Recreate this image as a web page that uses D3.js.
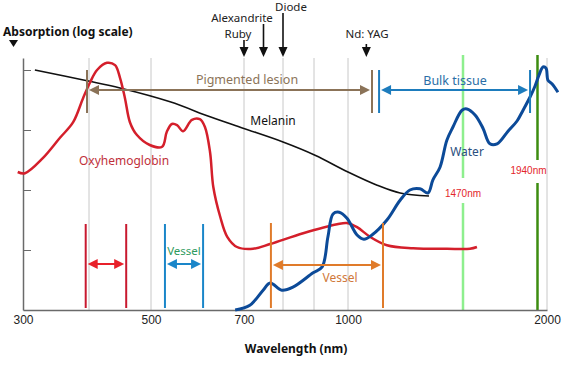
<!DOCTYPE html>
<html>
<head>
<meta charset="utf-8">
<script src="https://cdn.jsdelivr.net/npm/d3@7"></script>
<style>
  body { margin: 0; background: #fff; }
  svg { display: block; font-family: "Noto Sans", sans-serif; }
</style>
</head>
<body>
<div class="chart"></div>
<script>
// wavelength (nm) vs relative absorption (log10 units, arbitrary)
var melanin = [[318,4.0],[397,3.82],[450,3.70],[541,3.47],[627,3.22],[698,3.03],[800,2.80],
  [903,2.58],[1000,2.30],[1119,2.08],[1213,1.95],[1331,1.90]];

var oxyHb = [[292,2.30],[303,2.28],[330,2.53],[356,2.87],[376,3.13],[391,3.53],[402,3.80],
  [413,4.00],[429,4.12],[442,4.08],[450,3.87],[458,3.53],[466,3.13],[477,2.92],[498,2.75],
  [524,2.72],[534,2.97],[545,3.10],[556,3.08],[569,2.98],[588,3.17],[605,3.18],[616,3.05],
  [627,2.63],[634,2.05],[649,1.55],[664,1.22],[685,1.05],[723,1.02],[767,1.10],[865,1.28],
  [968,1.43],[997,1.45],[1037,1.38],[1090,1.22],[1159,1.08],[1266,1.03],[1405,1.02],
  [1514,1.02],[1558,1.05]];

var water = [[681,0.0],[715,0.08],[749,0.33],[767,0.45],[797,0.33],[832,0.38],[897,0.62],
  [924,0.72],[941,1.22],[956,1.60],[974,1.63],[997,1.53],[1037,1.25],[1065,1.18],[1098,1.25],
  [1159,1.50],[1213,1.83],[1253,2.00],[1294,2.02],[1327,1.95],[1347,2.17],[1376,2.38],
  [1404,2.83],[1429,3.05],[1466,3.33],[1495,3.35],[1546,3.25],[1596,3.03],[1640,2.77],
  [1685,2.77],[1754,2.98],[1811,3.15],[1849,3.33],[1893,3.55],[1924,3.73],[1950,3.92],
  [1975,4.05],[1994,4.03],[2006,3.83],[2031,3.77],[2069,3.63]];

var xTicks = [300, 500, 700, 1000, 2000];
var gridNm = [400, 500, 700, 800, 900, 1000, 2000];
var yTicks = [1, 2, 3, 4];

var lasers = [
  {name: "Ruby", nm: 700, top: 40},
  {name: "Alexandrite", nm: 750, top: 24},
  {name: "Diode", nm: 800, top: 13},
  {name: "Nd: YAG", nm: 1075, top: 44}
];

var waterPeaks = [1470, 1940];

// treatment windows (nm)
var pigmented = [397, 1098];
var bulkTissue = [1127, 1893];
var vesselRed = [395, 460];
var vesselBlue = [530, 612];
var vesselOrange = [769, 1143];

var svgWidth = 585, svgHeight = 371;

var svg = d3.select(".chart").append("svg")
  .attr("width", svgWidth)
  .attr("height", svgHeight);

// the wavelength axis of the original is a hand-spaced schematic, so piecewise
var x = d3.scaleLinear()
  .domain([300, 400, 500, 700, 800, 900, 1000, 1470, 2000])
  .range([23, 89, 151, 244, 283, 314, 348, 463, 547]);

var y = d3.scaleLinear()
  .domain([0, 4.2])
  .range([310, 58]);

// grid lines
svg.append("g").selectAll("line")
  .data(gridNm)
  .enter().append("line")
  .attr("x1", d => x(d)).attr("x2", d => x(d))
  .attr("y1", y(4.2)).attr("y2", y(0))
  .attr("stroke", "#c8c8c8").attr("stroke-width", 1);

// water peak lines (with a gap for their labels)
var peakColor = ["#8eef8e", "#3c8c10"];
var peakGap = [[178, 203], [160, 183]];
var peakLabelY = [197, 174];
var peakLabelDx = [0, -9];
waterPeaks.forEach(function(p, i) {
  svg.append("line")
    .attr("x1", x(p)).attr("x2", x(p))
    .attr("y1", 55).attr("y2", peakGap[i][0])
    .attr("stroke", peakColor[i]).attr("stroke-width", 2.5);
  svg.append("line")
    .attr("x1", x(p)).attr("x2", x(p))
    .attr("y1", peakGap[i][1]).attr("y2", y(0))
    .attr("stroke", peakColor[i]).attr("stroke-width", 2.5);
  svg.append("text")
    .attr("x", x(p) + peakLabelDx[i]).attr("y", peakLabelY[i])
    .attr("text-anchor", "middle")
    .style("font-family", "'Liberation Sans', Arial, sans-serif")
    .style("font-size", "10px")
    .attr("fill", "#e3262b")
    .text(p + "nm");
});

// axes
var xAxis = svg.append("g")
  .attr("transform", `translate(0, ${y(0)})`)
  .call(d3.axisBottom(x).tickValues(xTicks).tickFormat(d3.format("d"))
    .tickSize(0).tickSizeOuter(0).tickPadding(5));
xAxis.selectAll("text").style("font-size", "12px").attr("fill", "#222");

var yAxis = svg.append("g")
  .attr("transform", `translate(${x(300)}, 0)`)
  .call(d3.axisRight(y).tickValues(yTicks).tickSize(8).tickSizeOuter(0).tickFormat(""));

svg.selectAll(".domain").attr("stroke", "#6a6a6a").attr("stroke-width", 1.5);
yAxis.selectAll(".tick line").attr("stroke", "#6a6a6a").attr("stroke-width", 1);

svg.append("text")
  .attr("x", 3).attr("y", 36)
  .style("font-size", "12px").style("font-weight", "bold")
  .attr("fill", "#111")
  .text("Absorption (log scale)");
svg.append("path")
  .attr("d", "M9,40 L18,40 L13.5,47 Z")
  .attr("fill", "#111");

svg.append("text")
  .attr("x", 296).attr("y", 353)
  .attr("text-anchor", "middle")
  .style("font-size", "12px").style("font-weight", "bold")
  .attr("fill", "#111")
  .text("Wavelength (nm)");

// curves
var line = d3.line()
  .x(d => x(d[0]))
  .y(d => y(d[1]))
  .curve(d3.curveCatmullRom.alpha(0.5));

svg.append("path").datum(melanin)
  .attr("d", line).attr("fill", "none")
  .attr("stroke", "#111").attr("stroke-width", 1.6);

svg.append("path").datum(oxyHb)
  .attr("d", line).attr("fill", "none")
  .attr("stroke", "#d41f2b").attr("stroke-width", 2.5);

svg.append("path").datum(water)
  .attr("d", line).attr("fill", "none")
  .attr("stroke", "#0c4a98").attr("stroke-width", 3);

// arrow helpers
function head(g, tipX, tipY, dir, color, len, half) {
  var p;
  if (dir === "left") p = [[tipX, tipY], [tipX + len, tipY - half], [tipX + len, tipY + half]];
  else if (dir === "right") p = [[tipX, tipY], [tipX - len, tipY - half], [tipX - len, tipY + half]];
  else p = [[tipX, tipY], [tipX - half, tipY - len], [tipX + half, tipY - len]];
  g.append("path").attr("d", "M" + p.join("L") + "Z").attr("fill", color);
}

function span(range, barTop, barBottom, arrowY, barColor, arrowColor, width) {
  var g = svg.append("g");
  var x0 = x(range[0]), x1 = x(range[1]);
  [x0, x1].forEach(function(px) {
    g.append("line")
      .attr("x1", px).attr("x2", px)
      .attr("y1", barTop).attr("y2", barBottom)
      .attr("stroke", barColor).attr("stroke-width", width);
  });
  g.append("line")
    .attr("x1", x0 + 6).attr("x2", x1 - 6)
    .attr("y1", arrowY).attr("y2", arrowY)
    .attr("stroke", arrowColor).attr("stroke-width", 2);
  head(g, x0 + 2, arrowY, "left", arrowColor, 10, 5);
  head(g, x1 - 2, arrowY, "right", arrowColor, 10, 5);
  return g;
}

span(pigmented, 70, 113, 90, "#8b7358", "#8b7358", 2);
span(bulkTissue, 70, 113, 90, "#1d7cbd", "#1d7cbd", 2);
span(vesselRed, 224, 308, 264, "#c8192f", "#e8202a", 2);
span(vesselBlue, 224, 308, 264, "#1a86c9", "#1a86c9", 2);
span(vesselOrange, 223, 308, 265, "#e07b2a", "#e07b2a", 2);

// laser markers
var laserG = svg.append("g");
lasers.forEach(function(l) {
  laserG.append("line")
    .attr("x1", x(l.nm)).attr("x2", x(l.nm))
    .attr("y1", l.top).attr("y2", 48)
    .attr("stroke", "#111").attr("stroke-width", 1.6);
  head(laserG, x(l.nm), 57, "down", "#111", 10, 4.5);
});

var labels = [
  {t: "Alexandrite", x: 242, y: 22, c: "#222", s: 11.5},
  {t: "Ruby", x: 238, y: 38, c: "#222", s: 11.5},
  {t: "Diode", x: 291, y: 11, c: "#222", s: 11.5},
  {t: "Nd: YAG", x: 367, y: 38, c: "#222", s: 11.5},
  {t: "Pigmented lesion", x: 247, y: 84, c: "#8b7358", s: 12.5},
  {t: "Bulk tissue", x: 455, y: 85, c: "#2a6ea6", s: 12.5},
  {t: "Melanin", x: 273, y: 125, c: "#111", s: 12},
  {t: "Oxyhemoglobin", x: 124, y: 165, c: "#c0303a", s: 12},
  {t: "Water", x: 467, y: 156, c: "#2b4f80", s: 12},
  {t: "Vessel", x: 184, y: 255, c: "#2e9a5e", s: 11.5},
  {t: "Vessel", x: 340, y: 282, c: "#d0783a", s: 12}
];

svg.append("g").selectAll("text")
  .data(labels)
  .enter().append("text")
  .attr("x", d => d.x).attr("y", d => d.y)
  .attr("text-anchor", "middle")
  .style("font-size", d => d.s + "px")
  .attr("fill", d => d.c)
  .text(d => d.t);
</script>
</body>
</html>
